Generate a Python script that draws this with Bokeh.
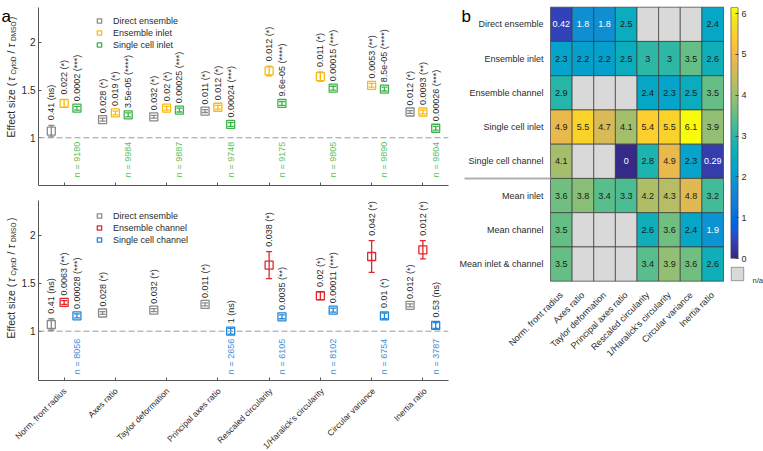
import numpy as np
from math import pi
from bokeh.plotting import figure
from bokeh.models import (ColumnDataSource, Range1d, FixedTicker, Span, LabelSet,
                          Legend, LegendItem, LinearColorMapper, NumeralTickFormatter)
from bokeh.layouts import row, column
from bokeh.embed import file_html
from bokeh.resources import INLINE
from bokeh.core.properties import value

FONT = "Liberation Sans"
TXT = "#2b2b2b"
AX = "#555555"

# ---------------- data ----------------
features = ["Norm. front radius", "Axes ratio", "Taylor deformation", "Principal axes ratio",
            "Rescaled circularity", "1/Haralick's circularity", "Circular variance", "Inertia ratio"]

direct_val = [1.07, 1.19, 1.22, 1.28, None, None, None, 1.27]
direct_err = [0.06, 0.015, 0.015, 0.015, None, None, None, 0.015]
direct_p = ["0.41 (ns)", "0.028 (*)", "0.032 (*)", "0.011 (*)", None, None, None, "0.012 (*)"]

ens_inlet_val = [1.36, 1.26, 1.31, 1.32, 1.70, 1.64, 1.55, 1.27]
ens_inlet_err = [0.04, 0.02, 0.02, 0.02, 0.05, 0.05, 0.02, 0.02]
ens_inlet_p = ["0.022 (*)", "0.019 (*)", "0.02 (*)", "0.012 (*)", "0.012 (*)", "0.011 (*)",
               "0.0053 (**)", "0.0093 (**)"]

sc_inlet_val = [1.31, 1.24, 1.29, 1.14, 1.36, 1.52, 1.51, 1.10]
sc_inlet_err = [0.02, 0.02, 0.02, 0.02, 0.02, 0.02, 0.02, 0.02]
sc_inlet_p = ["0.0002 (***)", "3.5e-05 (****)", "0.00025 (***)", "0.00024 (***)",
              "9.6e-05 (****)", "0.00015 (***)", "8.5e-05 (****)", "0.00026 (***)"]
sc_inlet_n = [9180, 9984, 9887, 9748, 9175, 9805, 9890, 9804]

ens_chan_val = [1.30, None, None, None, 1.69, 1.37, 1.78, 1.85]
ens_chan_err = [0.02, None, None, None, 0.14, 0.04, 0.165, 0.095]
ens_chan_p = ["0.0063 (**)", None, None, None, "0.038 (*)", "0.02 (*)", "0.042 (*)", "0.012 (*)"]

sc_chan_val = [1.16, None, None, 1.00, 1.15, 1.22, 1.16, 1.06]
sc_chan_err = [0.02, None, None, 0.03, 0.02, 0.02, 0.03, 0.03]
sc_chan_p = ["0.00028 (***)", None, None, "1 (ns)", "0.0035 (**)", "0.00011 (***)",
             "0.01 (*)", "0.53 (ns)"]
sc_chan_n = [8056, None, None, 2656, 6105, 8102, 6754, 3787]

rows_b = ["Direct ensemble", "Ensemble inlet", "Ensemble channel", "Single cell inlet",
          "Single cell channel", "Mean inlet", "Mean channel", "Mean inlet & channel"]
nan = float("nan")
heat = [
    [0.42, 1.8, 1.8, 2.5, nan, nan, nan, 2.4],
    [2.3, 2.2, 2.2, 2.5, 3, 3, 3.5, 2.6],
    [2.9, nan, nan, nan, 2.4, 2.3, 2.5, 3.5],
    [4.9, 5.5, 4.7, 4.1, 5.4, 5.5, 6.1, 3.9],
    [4.1, nan, nan, 0, 2.8, 4.9, 2.3, 0.29],
    [3.6, 3.8, 3.4, 3.3, 4.2, 4.3, 4.8, 3.2],
    [3.5, nan, nan, nan, 2.6, 3.6, 2.4, 1.9],
    [3.5, nan, nan, nan, 3.4, 3.9, 3.6, 2.6],
]
cbar_ticks = [0, 1, 2, 3, 4, 5, 6]
cbar_high = 6.15
na_label = "n/a"

parula = ['#352a87', '#363093', '#3637a0', '#353dad', '#3243ba', '#2c4ac7', '#2053d4', '#0f5cdd',
          '#0363e1', '#0268e1', '#046de0', '#0871de', '#0d75dc', '#1079da', '#127dd8', '#1481d6',
          '#1485d4', '#1389d3', '#108ed2', '#0c93d2', '#0998d1', '#079ccf', '#06a0cd', '#06a4ca',
          '#06a7c6', '#07a9c2', '#0aacbe', '#0faeb9', '#15b1b4', '#1db3af', '#25b5a9', '#2eb7a4',
          '#38b99e', '#42bb98', '#4dbc92', '#59bd8c', '#65be86', '#71bf80', '#7cbf7b', '#87bf77',
          '#92bf73', '#9cbf6f', '#a5be6b', '#aebe67', '#b7bd64', '#c0bc60', '#c8bc5d', '#d1bb59',
          '#d9ba56', '#e1b952', '#e9b94e', '#f1b94a', '#f8bb44', '#fdbe3d', '#ffc337', '#fec832',
          '#fcce2e', '#fad32a', '#f7d826', '#f5de21', '#f5e41d', '#f5eb18', '#f6f313', '#f9fb0e']

C_GRAY, C_YEL, C_GRN, C_RED, C_BLU = "#8a8a8a", "#f8b914", "#3cb44a", "#e2262c", "#1f86dc"
C_NGRN, C_NBLU = "#5cc15c", "#3a90dd"

PANEL_RIGHT = 3


def bare(width, height, xr, yr):
    f = figure(width=width, height=height, x_range=xr, y_range=yr, min_border=0,
               min_border_left=0, min_border_right=0, min_border_top=0, min_border_bottom=0,
               x_axis_location=None, y_axis_location=None, toolbar_location=None,
               output_backend="svg")
    f.grid.visible = False
    f.outline_line_color = None
    f.background_fill_color = "white"
    f.border_fill_color = "white"
    return f


def txt(f, x, y, t, size, **kw):
    f.text(x=[x], y=[y], text=[t], text_font=value(FONT), text_font_size=value(size), **kw)


def add_series(p, offset, vals, errs, labels, color):
    idx = [i for i, v in enumerate(vals) if v is not None]
    x = [i + offset for i in idx]
    y = [vals[i] for i in idx]
    e = [errs[i] for i in idx]
    src = ColumnDataSource(dict(x=x, y=y, lo=[a - b for a, b in zip(y, e)],
                                hi=[a + b for a, b in zip(y, e)],
                                lab=[labels[i] for i in idx]))
    r = p.scatter("x", "y", source=src, marker="square", size=8, fill_color="white",
                  line_color=color, line_width=1.3)
    p.segment("x", "lo", "x", "hi", source=src, line_color=color, line_width=1.3)
    p.scatter("x", "lo", source=src, marker="dash", size=6, line_color=color, line_width=1.3)
    p.scatter("x", "hi", source=src, marker="dash", size=6, line_color=color, line_width=1.3)
    p.add_layout(LabelSet(x="x", y="hi", text="lab", source=src, angle=pi / 2,
                          text_align="left", text_baseline="middle", y_offset=5,
                          text_font_size=value("9px"), text_color=TXT, text_font=value(FONT)))
    return r


def add_n(p, offset, ns, color, y0, off):
    idx = [i for i, v in enumerate(ns) if v is not None]
    src = ColumnDataSource(dict(x=[i + offset for i in idx], y=[y0] * len(idx),
                                t1=["n"] * len(idx), t2=["= %d" % ns[i] for i in idx]))
    p.add_layout(LabelSet(x="x", y="y", text="t1", source=src, angle=pi / 2, text_align="left",
                          text_baseline="middle", y_offset=off, text_font_size=value("9px"),
                          text_font_style=value("italic"), text_color=color, text_font=value(FONT)))
    p.add_layout(LabelSet(x="x", y="y", text="t2", source=src, angle=pi / 2, text_align="left",
                          text_baseline="middle", y_offset=off + 8, text_font_size=value("9px"),
                          text_color=color, text_font=value(FONT)))


def make_panel(height, top, bottom, yr, series, ns, ncolor, n_off, frame_h, legend_top):
    p = figure(width=430 + PANEL_RIGHT, height=height, x_range=Range1d(-0.5, 7.5),
               y_range=Range1d(*yr), min_border_left=18, min_border_right=PANEL_RIGHT,
               min_border_top=top, min_border_bottom=bottom,
               toolbar_location=None, output_backend="svg")
    p.grid.visible = False
    p.outline_line_color = None
    p.background_fill_color = "white"
    p.border_fill_color = "white"
    p.xaxis.ticker = FixedTicker(ticks=list(range(len(features))))
    p.xaxis.major_label_overrides = {i: "" for i in range(len(features))}
    p.xaxis.major_label_text_font_size = "0px"
    p.xaxis.major_label_standoff = 0
    p.yaxis.ticker = FixedTicker(ticks=[1, 1.5, 2])
    p.yaxis.formatter = NumeralTickFormatter(format="0.[0]")
    p.yaxis.major_label_text_font_size = "10px"
    p.yaxis.major_label_standoff = 3
    for ax in (p.xaxis, p.yaxis):
        ax.axis_line_color = AX
        ax.major_tick_line_color = AX
        ax.major_tick_in = 3
        ax.major_tick_out = 0
        ax.minor_tick_line_color = None
        ax.major_label_text_color = TXT
        ax.major_label_text_font = FONT
    p.add_layout(Span(location=1, dimension="width", line_color="#9a9a9a", line_dash="6 3",
                      line_width=1))
    items = []
    for off, vals, errs, labs, col, name in series:
        r = add_series(p, off, vals, errs, labs, col)
        items.append(LegendItem(label=name, renderers=[r]))
    add_n(p, 0.25, ns, ncolor, yr[0], n_off)
    legend = Legend(items=items, location=(55, frame_h - legend_top - 35), orientation="vertical",
                    border_line_alpha=0, background_fill_alpha=0, padding=0, margin=0, spacing=1,
                    label_height=11, glyph_height=11, glyph_width=12, label_standoff=8,
                    label_text_font_size="9px", label_text_font=FONT, label_text_color=TXT)
    p.add_layout(legend)
    return p


def ylabel_strip(height, y0, letter):
    s = bare(18, height, Range1d(0, 18), Range1d(0, height))
    pieces = [("Effect size (", 0, "10.5px", "normal", 0),
              ("\u03c4", 56.5, "10.5px", "italic", 0),
              ("CytoD", 63, "6.5px", "normal", 3),
              ("/", 84, "10.5px", "normal", 0),
              ("\u03c4", 90, "10.5px", "italic", 0),
              ("DMSO", 96.5, "6.5px", "normal", 3),
              (")", 117.5, "10.5px", "normal", 0)]
    for t, dy, fs, st, dx in pieces:
        txt(s, 10 + dx, y0 + dy, t, fs, angle=pi / 2, text_align="left", text_baseline="middle",
            text_font_style=value(st), text_color=TXT)
    if letter:
        txt(s, 1, height - 16, letter, "17px", text_align="left", text_baseline="alphabetic",
            text_color="black")
    return s


top = make_panel(192, 7, 7, (0.50, 2.365),
                 [(-0.25, direct_val, direct_err, direct_p, C_GRAY, "Direct ensemble"),
                  (0.0, ens_inlet_val, ens_inlet_err, ens_inlet_p, C_YEL, "Ensemble inlet"),
                  (0.25, sc_inlet_val, sc_inlet_err, sc_inlet_p, C_GRN, "Single cell inlet")],
                 sc_inlet_n, C_NGRN, 8, 178, 8)
bottom = make_panel(191, 8, 3, (0.485, 2.365),
                    [(-0.25, direct_val, direct_err, direct_p, C_GRAY, "Direct ensemble"),
                     (0.0, ens_chan_val, ens_chan_err, ens_chan_p, C_RED, "Ensemble channel"),
                     (0.25, sc_chan_val, sc_chan_err, sc_chan_p, C_BLU, "Single cell channel")],
                    sc_chan_n, C_NBLU, 6, 180, 10)
strip_top = ylabel_strip(192, 55, "a")
strip_bot = ylabel_strip(191, 45, None)

# x tick labels of panel a (below the lower panel), aligned with the panels' x scale
xlab = bare(448 + PANEL_RIGHT, 68, Range1d(-0.5 - 36 / 51.5, 7.5 + PANEL_RIGHT / 51.5),
            Range1d(0, 68))
xsrc = ColumnDataSource(dict(x=[i + 0.05 for i in range(len(features))],
                             y=[62] * len(features), t=features))
xlab.text("x", "y", text="t", source=xsrc, angle=pi / 4, text_align="right",
          text_baseline="middle", text_font_size=value("8.5px"), text_font=value(FONT),
          text_color=TXT)

left_block = column(row(column(strip_top, strip_bot), column(top, bottom)), xlab)

# ---------------- heatmap ----------------
CW, RH = 21.625, 34.25
mapper = LinearColorMapper(palette=parula, low=0, high=cbar_high, nan_color="#d9d9d9")
hx, hy, hv = [], [], []
for r_i, rv in enumerate(heat):
    for c_i, v in enumerate(rv):
        hx.append(c_i)
        hy.append(r_i)
        hv.append(v)
hsrc = ColumnDataSource(dict(x=hx, y=hy, v=np.array(hv, dtype=float)))
tx = [x for x, v in zip(hx, hv) if v == v]
ty = [y for y, v in zip(hy, hv) if v == v]
tv = [v for v in hv if v == v]
tsrc = ColumnDataSource(dict(x=tx, y=ty, t=["%g" % v for v in tv],
                             c=["white" if v < 2 else "#1a1a1a" for v in tv]))

hp = figure(width=274, height=451,
            x_range=Range1d(-0.5 - 99 / CW, 7.5 + 2 / CW),
            y_range=Range1d(7.5 + 1.3 / RH, -0.5 - 6.7 / RH),
            min_border_left=0, min_border_right=0, min_border_top=0, min_border_bottom=169,
            y_axis_location=None, toolbar_location=None, output_backend="svg")
hp.grid.visible = False
hp.outline_line_color = None
hp.rect("x", "y", 1, 1, source=hsrc, fill_color={"field": "v", "transform": mapper},
        line_color="#3a3a3a", line_width=0.7)
hp.text("x", "y", text="t", source=tsrc, text_color="c", text_align="center",
        text_baseline="middle", text_font_size=value("9px"), text_font=value(FONT))
rsrc = ColumnDataSource(dict(x=[-0.5 - 7 / CW] * len(rows_b), y=list(range(len(rows_b))), t=rows_b))
hp.text("x", "y", text="t", source=rsrc, text_align="right", text_baseline="middle",
        text_font_size=value("9px"), text_font=value(FONT), text_color=TXT)
hp.segment(x0=[-0.5 - 86 / CW], y0=[4.5], x1=[-0.5], y1=[4.5], line_color="#b0b0b0", line_width=2)
txt(hp, -0.5 - 89 / CW, -0.5 - 6.7 / RH + 16 / RH, "b", "17px", text_align="left",
    text_baseline="alphabetic", text_color="black")
hp.xaxis.ticker = FixedTicker(ticks=list(range(len(features))))
hp.xaxis.major_label_overrides = {i: f for i, f in enumerate(features)}
hp.xaxis.major_label_orientation = pi / 4
hp.xaxis.axis_line_color = None
hp.xaxis.major_tick_line_color = None
hp.xaxis.minor_tick_line_color = None
hp.xaxis.major_label_text_font_size = "9px"
hp.xaxis.major_label_text_color = TXT
hp.xaxis.major_label_text_font = FONT
hp.xaxis.major_label_standoff = 5

# ---------------- colorbar ----------------
cb = figure(width=34, height=264, x_range=Range1d(-0.04, 1.04), y_range=Range1d(0, cbar_high),
            min_border_left=5, min_border_right=15, min_border_top=7, min_border_bottom=6,
            x_axis_location=None, y_axis_location="right", toolbar_location=None,
            output_backend="svg")
cb.grid.visible = False
cb.outline_line_color = None
cb.background_fill_color = "white"
grad = np.linspace(0, cbar_high, 256).reshape(-1, 1)
cb.image(image=[grad], x=0, y=0, dw=1, dh=cbar_high, color_mapper=mapper)
cb.quad(left=[0], right=[1], bottom=[0], top=[cbar_high], fill_color=None, line_color="#444444",
        line_width=1)
cb.yaxis.ticker = FixedTicker(ticks=cbar_ticks)
cb.yaxis.axis_line_color = None
cb.yaxis.major_tick_line_color = "#444444"
cb.yaxis.major_tick_in = 3
cb.yaxis.major_tick_out = 0
cb.yaxis.minor_tick_line_color = None
cb.yaxis.major_label_standoff = 3
cb.yaxis.major_label_text_font_size = "9px"
cb.yaxis.major_label_text_color = TXT
cb.yaxis.major_label_text_font = FONT

# "n/a" swatch: a small frame holding the grey box, labelled by its own right axis
na = figure(frame_width=14, frame_height=15, x_range=Range1d(-0.05, 1.05),
            y_range=Range1d(-0.05, 1.05),
            min_border_left=3, min_border_right=12, min_border_top=2, min_border_bottom=170,
            x_axis_location=None, y_axis_location="right", toolbar_location=None,
            output_backend="svg")
na.grid.visible = False
na.outline_line_color = None
na.background_fill_color = "white"
na.quad(left=[0], right=[1], top=[1], bottom=[0], fill_color="#d9d9d9", line_color="#8a8a8a",
        line_width=1)
na.yaxis.ticker = FixedTicker(ticks=[0])
na.yaxis.major_label_overrides = {0: na_label}
na.yaxis.axis_line_color = None
na.yaxis.major_tick_line_color = None
na.yaxis.minor_tick_line_color = None
na.yaxis.major_label_standoff = 2
na.yaxis.major_label_text_font_size = "7.5px"
na.yaxis.major_label_text_color = TXT
na.yaxis.major_label_text_font = FONT

layout = row(left_block, hp, column(cb, na))
open("out.html", "w").write(file_html(layout, INLINE))
